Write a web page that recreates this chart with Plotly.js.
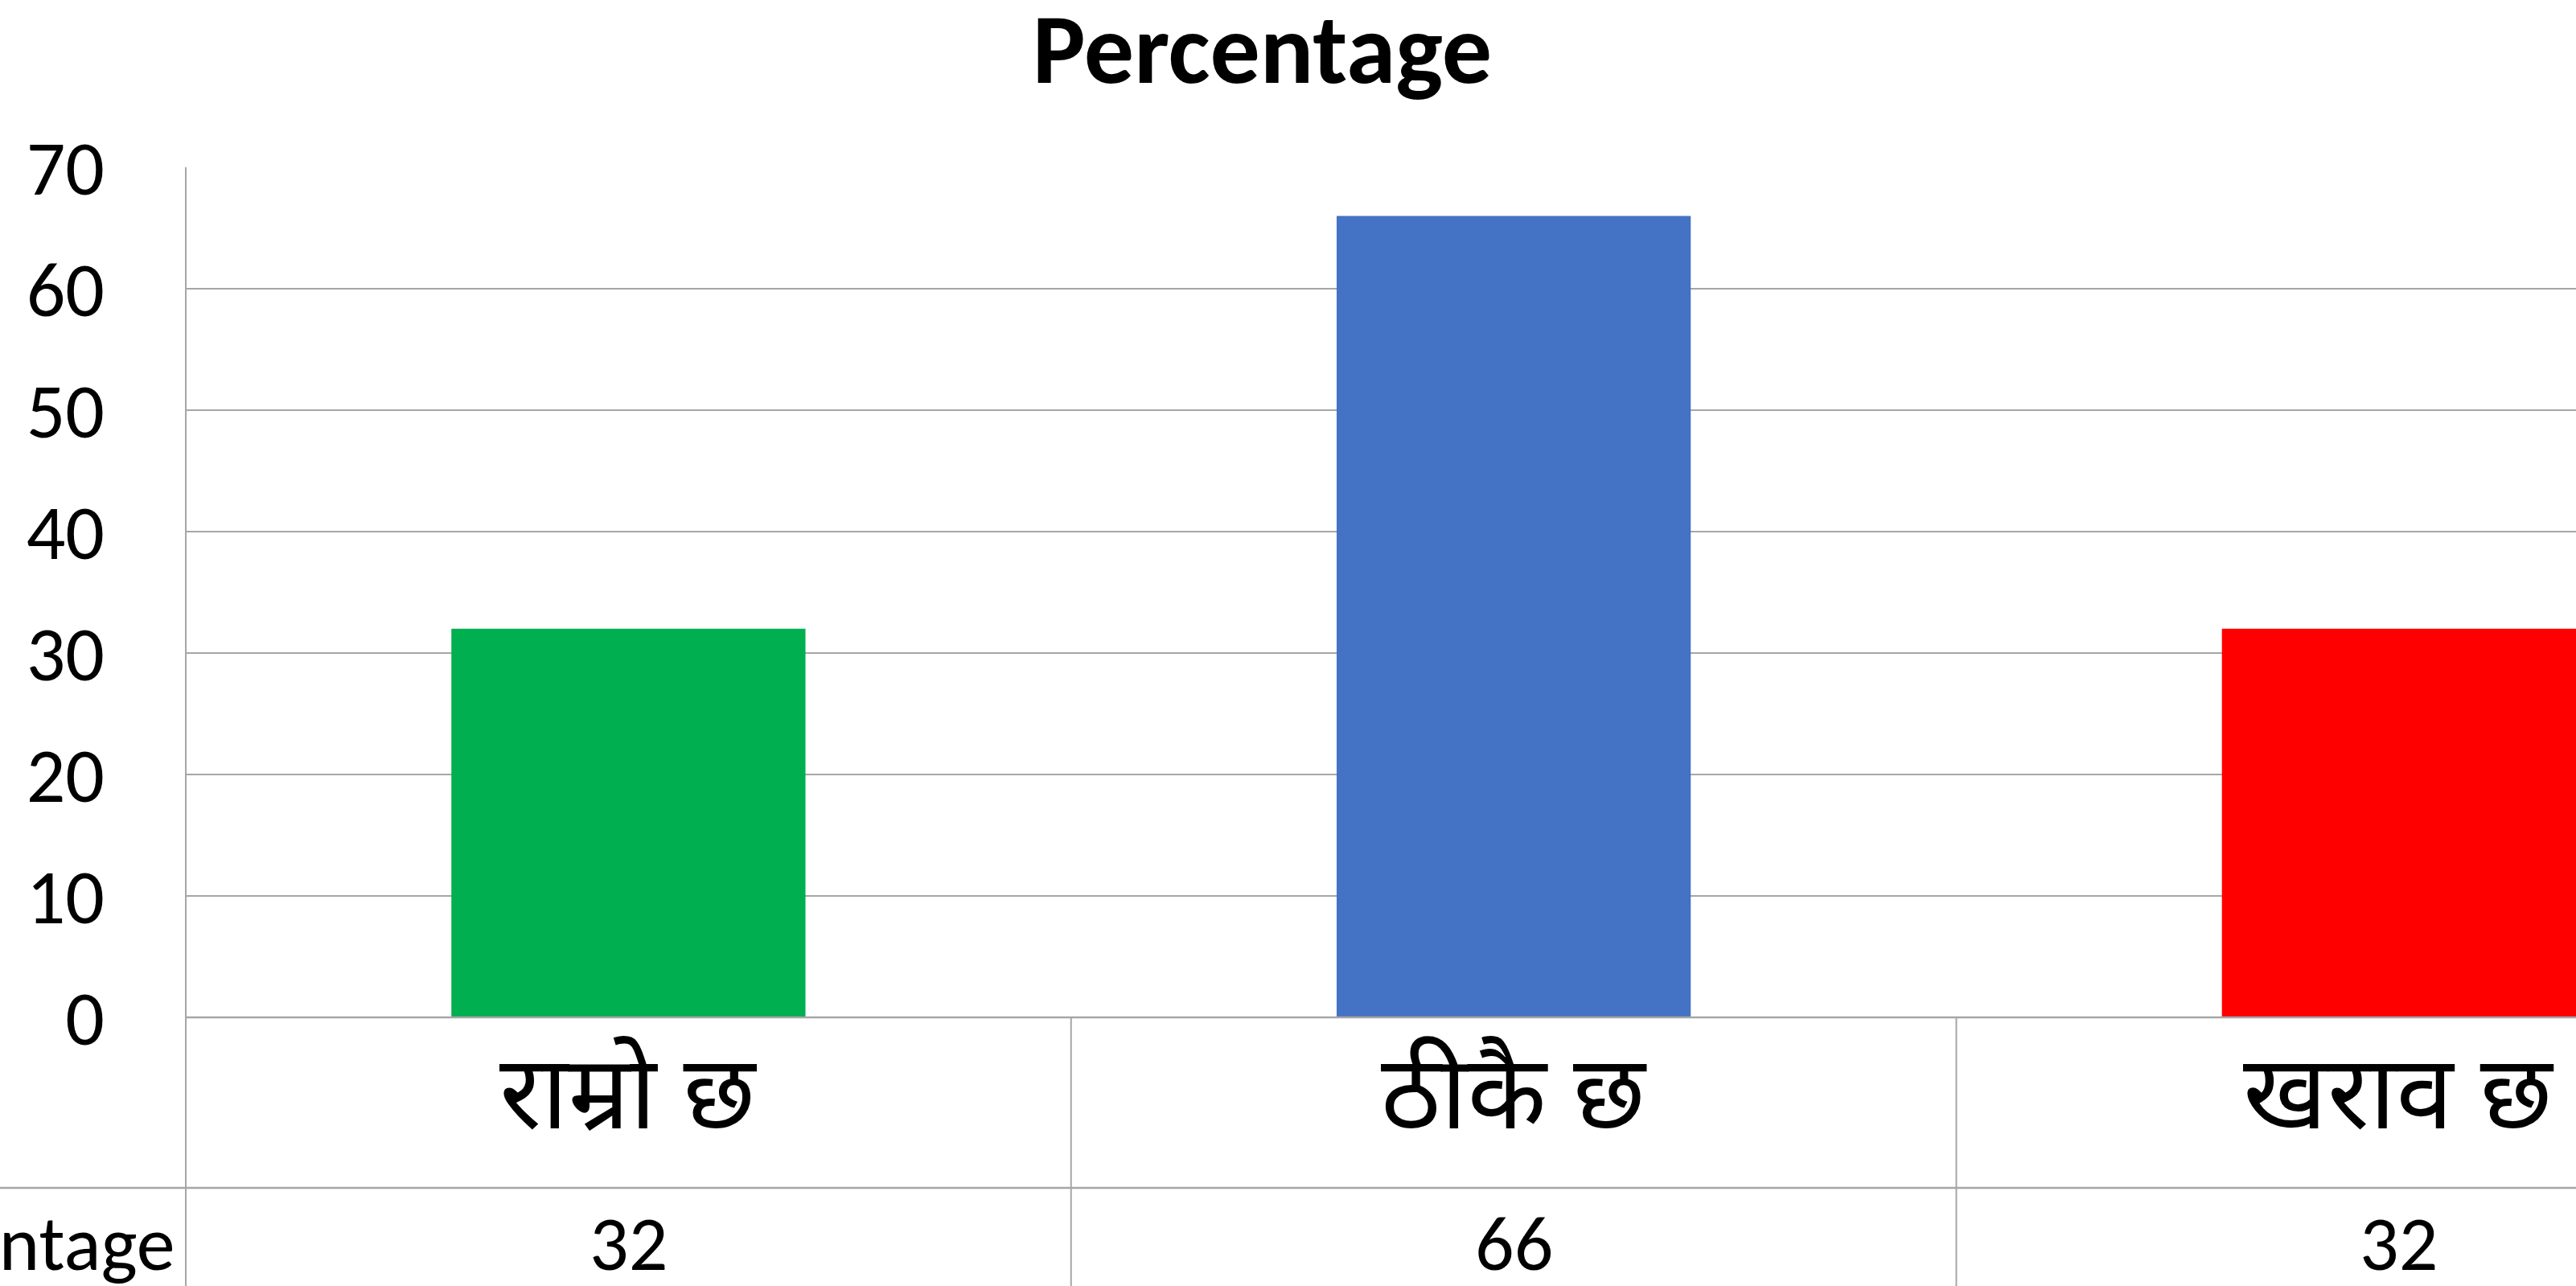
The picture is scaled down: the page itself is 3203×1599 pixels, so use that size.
<!DOCTYPE html>
<html>
<head>
<meta charset="utf-8">
<script src="https://cdn.plot.ly/plotly-3.0.1.min.js"></script>
<style>html,body{margin:0;padding:0;background:#fff;}#chart{width:3203px;height:1599px;}</style>
</head>
<body>
<div id="chart"></div>
<script>
const categories = ["राम्रो छ", "ठीकै छ", "खराव छ"];
const values = [32, 66, 32];
const barColors = ["#00B050", "#4472C4", "#FF0000"];
const seriesName = "Percentage";
const yTicks = [0, 10, 20, 30, 40, 50, 60, 70];

const W = 3203, H = 1599;
const L = 231, T = 208, ZERO = 1265;
const plotW = W - L, plotH = ZERO - T;
const LATIN = "Carlito, 'Liberation Sans Narrow', 'Open Sans', sans-serif";
const DEVA = "'Noto Sans Devanagari', 'Lohit Devanagari', 'Mangal', 'Noto Sans', sans-serif";
const GRID = "#a6a6a6";

function px2paperX(px) { return (px - L) / plotW; }
function px2paperY(py) { return (ZERO - py) / plotH; }

const xIdx = categories.map((c, i) => i);

const trace = {
  type: "bar",
  x: xIdx,
  y: values,
  width: 0.4,
  marker: { color: barColors, line: { width: 0 } },
  name: seriesName,
  hoverinfo: "skip"
};

const rowLineY = px2paperY(1477);
const bottomY = px2paperY(1620);
const shapes = [
  { type: "line", xref: "paper", yref: "paper", x0: 0, x1: 0, y0: 1, y1: bottomY, line: { color: GRID, width: 2 } },
  { type: "line", xref: "paper", yref: "paper", x0: 0, x1: 1.2, y0: 0, y1: 0, line: { color: GRID, width: 2.5 } },
  { type: "line", xref: "paper", yref: "paper", x0: px2paperX(-10), x1: 1.2, y0: rowLineY, y1: rowLineY, line: { color: GRID, width: 2.5 } }
];
for (let i = 0; i < categories.length - 1; i++) {
  const xb = px2paperX(L + (i + 1) * (plotW / 2.7));
  shapes.push({ type: "line", xref: "paper", yref: "paper", x0: xb, x1: xb, y0: 0, y1: bottomY, line: { color: GRID, width: 2 } });
}

const annotations = [];
categories.forEach((c, i) => {
  annotations.push({ x: xIdx[i], xref: "x", y: px2paperY(1371), yref: "paper", text: c, showarrow: false,
    xanchor: "center", yanchor: "middle", font: { family: DEVA, size: 128, color: "#000" } });
  annotations.push({ x: xIdx[i], xref: "x", y: px2paperY(1546), yref: "paper", text: String(values[i]), showarrow: false,
    xanchor: "center", yanchor: "middle", font: { family: LATIN, size: 96, color: "#000" } });
});
annotations.push({ x: px2paperX(220), xref: "paper", y: px2paperY(1546), yref: "paper", text: seriesName, showarrow: false,
  xanchor: "right", yanchor: "middle", font: { family: LATIN, size: 96, color: "#000" } });

const layout = {
  width: W, height: H,
  margin: { l: L, r: 0, t: T, b: H - ZERO, pad: 0 },
  paper_bgcolor: "#fff", plot_bgcolor: "#fff",
  showlegend: false,
  title: { text: "<b>Percentage</b>", xref: "container", x: 0.49, xanchor: "center", yref: "container", y: 1 - 60 / H, yanchor: "middle",
    font: { family: LATIN, size: 124, color: "#000" } },
  xaxis: { range: [-0.5, 2.2], showticklabels: false, showgrid: false, zeroline: false, showline: false, ticks: "", fixedrange: true },
  yaxis: { range: [0, 70], tickvals: yTicks, ticktext: yTicks.map(String), showgrid: true, gridcolor: GRID, gridwidth: 2,
    zeroline: false, showline: false, ticks: "", ticklabelstandoff: 100,
    tickfont: { family: LATIN, size: 96, color: "#000" } },
  shapes: shapes,
  annotations: annotations
};

Plotly.newPlot("chart", [trace], layout, { staticPlot: true, displayModeBar: false });
</script>
</body>
</html>
